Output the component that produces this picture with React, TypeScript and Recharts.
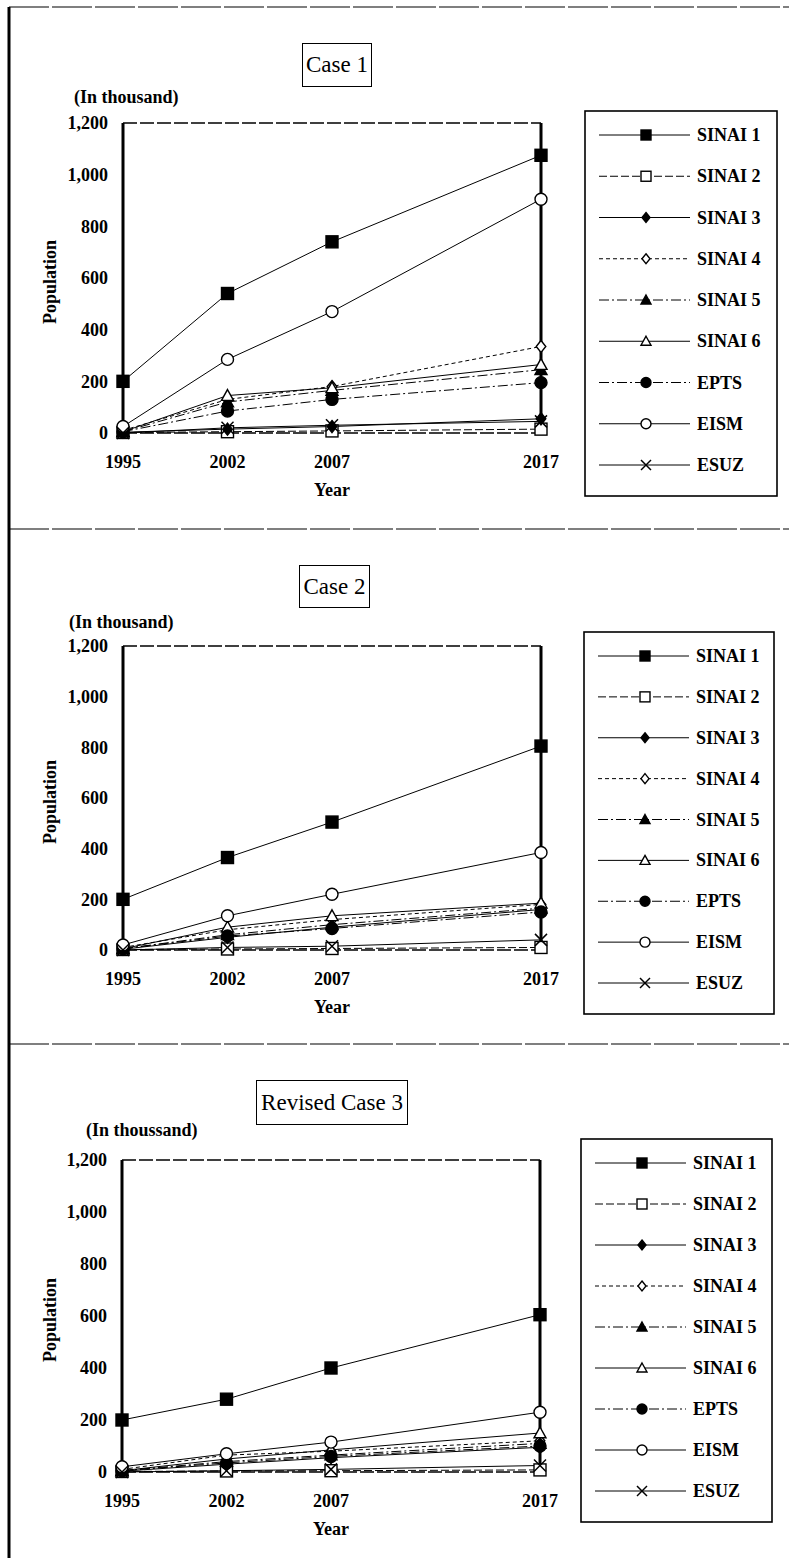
import React from "react"
import { LineChart, Line, XAxis, YAxis, ReferenceLine, Legend, Label } from "recharts"

const years = ["1995", "2002", "2007", "2017"]
// 2007 -> 2017 sits two slots apart on the printed axis
const axisSlots = ["1995", "2002", "2007", "2012", "2017"]
const yTicks = [0, 200, 400, 600, 800, 1000, 1200]

const seriesNames = ["SINAI 1", "SINAI 2", "SINAI 3", "SINAI 4", "SINAI 5", "SINAI 6", "EPTS", "EISM", "ESUZ"]

// values in thousand, same order as seriesNames
const case1Values = [
  [200, 540, 740, 1075],
  [2, 5, 8, 15],
  [3, 15, 25, 55],
  [10, 130, 180, 335],
  [5, 120, 165, 245],
  [5, 145, 175, 265],
  [5, 85, 130, 195],
  [25, 285, 470, 905],
  [0, 20, 30, 45],
]

const case2Values = [
  [200, 365, 505, 805],
  [2, 4, 6, 10],
  [3, 50, 90, 160],
  [10, 80, 120, 180],
  [5, 60, 100, 165],
  [5, 90, 135, 185],
  [5, 55, 85, 150],
  [20, 135, 220, 385],
  [0, 10, 15, 40],
]

const case3Values = [
  [200, 280, 400, 605],
  [2, 4, 5, 8],
  [3, 30, 55, 95],
  [10, 65, 80, 120],
  [5, 40, 65, 110],
  [5, 50, 85, 150],
  [5, 35, 60, 100],
  [20, 70, 115, 230],
  [0, 5, 10, 25],
]

const markerShapes = [
  "squareFilled",
  "squareOpen",
  "diamondFilled",
  "diamondOpen",
  "triangleFilled",
  "triangleOpen",
  "circleFilled",
  "circleOpen",
  "cross",
]
const dashes = ["", "8 3", "", "4 3", "10 3 2 3", "", "10 3 2 3", "", ""]

const FONT = '"Liberation Serif", "Times New Roman", serif'
const PAGE_W = 789

function buildRows(values: number[][]) {
  return axisSlots.map((slot) => {
    const i = years.indexOf(slot)
    const row: Record<string, string | number | null> = { year: slot }
    values.forEach((vals, s) => {
      row[`s${s}`] = i >= 0 ? vals[i] : null
    })
    return row
  })
}

function Marker({ shape, cx, cy, size }: { shape: string; cx: number; cy: number; size: number }) {
  const h = size / 2
  const filled = shape.endsWith("Filled")
  const fill = filled ? "#000" : "#fff"
  const sw = 1.4
  if (shape.startsWith("square"))
    return <rect x={cx - h} y={cy - h} width={size} height={size} fill={fill} stroke="#000" strokeWidth={sw} />
  if (shape.startsWith("diamond"))
    return (
      <polygon
        points={`${cx},${cy - h} ${cx + h * 0.8},${cy} ${cx},${cy + h} ${cx - h * 0.8},${cy}`}
        fill={fill}
        stroke="#000"
        strokeWidth={sw}
      />
    )
  if (shape.startsWith("triangle"))
    return (
      <polygon
        points={`${cx},${cy - h} ${cx + h},${cy + h * 0.8} ${cx - h},${cy + h * 0.8}`}
        fill={fill}
        stroke="#000"
        strokeWidth={sw}
      />
    )
  if (shape.startsWith("circle")) return <circle cx={cx} cy={cy} r={h} fill={fill} stroke="#000" strokeWidth={sw} />
  return (
    <g stroke="#000" strokeWidth={1.5}>
      <line x1={cx - h} y1={cy - h} x2={cx + h} y2={cy + h} />
      <line x1={cx - h} y1={cy + h} x2={cx + h} y2={cy - h} />
    </g>
  )
}

function LegendBox({ width, height }: { width: number; height: number }) {
  const step = (height - 57) / 8
  return (
    <svg width={width} height={height} style={{ display: "block" }}>
      <rect x={1} y={1} width={width - 2} height={height - 2} fill="#fff" stroke="#000" strokeWidth={1.6} />
      {seriesNames.map((name, i) => {
        const cy = 25 + i * step
        return (
          <g key={name}>
            <line x1={15} y1={cy} x2={106} y2={cy} stroke="#000" strokeWidth={1} strokeDasharray={dashes[i] || undefined} />
            <Marker shape={markerShapes[i]} cx={62} cy={cy} size={10} />
            <text x={113} y={cy + 6} fontFamily={FONT} fontSize={18} fontWeight="bold" fill="#000">
              {name}
            </text>
          </g>
        )
      })}
    </svg>
  )
}

type PanelProps = {
  title: string
  unitText: string
  values: number[][]
  plotTop: number
  plotBottom: number
  plotLeft: number
  plotRight: number
  titleBox: { x: number; y: number; w: number; h: number }
  unitPos: { x: number; y: number }
  legendBox: { x: number; y: number; w: number; h: number }
}

function Panel(p: PanelProps) {
  const rows = buildRows(p.values)
  const topPad = 40
  const axisH = 70
  const chartTop = p.plotTop - topPad
  const chartH = p.plotBottom - p.plotTop + topPad + axisH
  const textStyle: React.CSSProperties = {
    position: "absolute",
    fontFamily: FONT,
    fontSize: 18,
    fontWeight: "bold",
    color: "#000",
    whiteSpace: "nowrap",
    lineHeight: "18px",
  }

  return (
    <>
      <div
        style={{
          position: "absolute",
          left: p.titleBox.x,
          top: p.titleBox.y,
          width: p.titleBox.w,
          height: p.titleBox.h,
          border: "1.6px solid #000",
          boxSizing: "border-box",
          display: "flex",
          alignItems: "center",
          justifyContent: "center",
          fontFamily: FONT,
          fontSize: 23,
          background: "#fff",
        }}
      >
        {p.title}
      </div>
      <div style={{ ...textStyle, left: p.unitPos.x, top: p.unitPos.y - 9 }}>{p.unitText}</div>
      <div
        style={{
          ...textStyle,
          left: 50,
          top: (p.plotTop + p.plotBottom) / 2 + 4,
          transform: "translate(-50%, -50%) rotate(-90deg)",
        }}
      >
        Population
      </div>
      <div style={{ position: "absolute", left: 0, top: chartTop }}>
        <LineChart
          width={PAGE_W}
          height={chartH}
          data={rows}
          margin={{ top: topPad, right: PAGE_W - p.plotRight, bottom: 0, left: 0 }}
        >
          <XAxis
            dataKey="year"
            height={axisH}
            interval={0}
            tickLine={false}
            tickSize={0}
            tickMargin={22}
            tickFormatter={(v: string) => (years.includes(v) ? v : "")}
            axisLine={{ stroke: "#000", strokeWidth: 1.3, strokeDasharray: "14 3" }}
            tick={{ fill: "#000", fontSize: 18, fontWeight: "bold", fontFamily: FONT }}
          >
            <Label
              value="Year"
              position="insideBottom"
              offset={7}
              style={{ fill: "#000", fontSize: 18, fontWeight: "bold", fontFamily: FONT }}
            />
          </XAxis>
          <YAxis
            width={p.plotLeft}
            domain={[0, 1200]}
            ticks={yTicks}
            interval={0}
            tickLine={false}
            tickSize={0}
            tickMargin={15}
            tickFormatter={(v: number) => v.toLocaleString("en-US")}
            axisLine={{ stroke: "#000", strokeWidth: 3 }}
            tick={{ fill: "#000", fontSize: 18, fontWeight: "bold", fontFamily: FONT }}
          />
          <ReferenceLine y={1200} stroke="#000" strokeWidth={1.3} strokeDasharray="14 3" />
          <ReferenceLine x="2017" stroke="#000" strokeWidth={3} />
          {seriesNames.map((name, s) => (
            <Line
              key={name}
              name={name}
              dataKey={`s${s}`}
              type="linear"
              stroke="#000"
              strokeWidth={1}
              strokeDasharray={dashes[s] || undefined}
              connectNulls
              isAnimationActive={false}
              activeDot={false}
              dot={(d: any) => {
                const k = `${name}-${d.index}`
                if (d.cx == null || d.cy == null || d.payload?.[`s${s}`] == null) return <g key={k} />
                return (
                  <g key={k}>
                    <Marker shape={markerShapes[s]} cx={d.cx} cy={d.cy} size={12} />
                  </g>
                )
              }}
            />
          ))}
          <Legend
            layout="vertical"
            align="center"
            verticalAlign="middle"
            content={() => <LegendBox width={p.legendBox.w} height={p.legendBox.h} />}
            wrapperStyle={{
              position: "absolute",
              left: p.legendBox.x,
              top: p.legendBox.y - chartTop,
              width: p.legendBox.w,
              height: p.legendBox.h,
            }}
          />
        </LineChart>
      </div>
    </>
  )
}

export default function App() {
  return (
    <div
      style={{
        position: "absolute",
        left: 0,
        top: 0,
        width: PAGE_W,
        height: 1558,
        background: "#fff",
        fontFamily: FONT,
      }}
    >
      <svg width={PAGE_W} height={1558} style={{ position: "absolute", left: 0, top: 0 }}>
        <line x1={9} y1={7} x2={9} y2={1558} stroke="#000" strokeWidth={3} />
        <line x1={9} y1={7} x2={PAGE_W} y2={7} stroke="#000" strokeWidth={1.2} strokeDasharray="40 3" />
        <line x1={9} y1={529} x2={PAGE_W} y2={529} stroke="#000" strokeWidth={1.2} strokeDasharray="40 3" />
        <line x1={9} y1={1044} x2={PAGE_W} y2={1044} stroke="#000" strokeWidth={1.2} strokeDasharray="40 3" />
      </svg>
      <Panel
        title="Case 1"
        unitText="(In thousand)"
        values={case1Values}
        plotTop={123}
        plotBottom={433}
        plotLeft={123}
        plotRight={541}
        titleBox={{ x: 302, y: 43, w: 70, h: 44 }}
        unitPos={{ x: 74, y: 97 }}
        legendBox={{ x: 584, y: 110, w: 194, h: 387 }}
      />
      <Panel
        title="Case 2"
        unitText="(In thousand)"
        values={case2Values}
        plotTop={646}
        plotBottom={950}
        plotLeft={123}
        plotRight={541}
        titleBox={{ x: 299, y: 565, w: 71, h: 43 }}
        unitPos={{ x: 69, y: 622 }}
        legendBox={{ x: 583, y: 631, w: 192, h: 384 }}
      />
      <Panel
        title="Revised Case 3"
        unitText="(In thoussand)"
        values={case3Values}
        plotTop={1160}
        plotBottom={1472}
        plotLeft={122}
        plotRight={540}
        titleBox={{ x: 256, y: 1080, w: 152, h: 45 }}
        unitPos={{ x: 86, y: 1130 }}
        legendBox={{ x: 580, y: 1138, w: 193, h: 385 }}
      />
    </div>
  )
}
